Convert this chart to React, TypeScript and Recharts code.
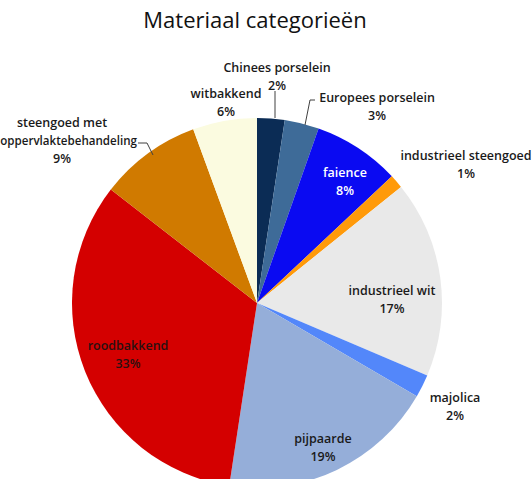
import React from "react";
import { PieChart, Pie, Cell } from "recharts";

// Materiaal categorieën – shares in percent, clockwise from 12 o'clock
const categories = [
  "Chinees porselein",
  "Europees porselein",
  "faience",
  "industrieel steengoed",
  "industrieel wit",
  "majolica",
  "pijpaarde",
  "roodbakkend",
  "steengoed met oppervlaktebehandeling",
  "witbakkend",
];
const shares = [2.4, 3.0, 7.6, 1.2, 17.2, 2.0, 19.0, 33.1, 8.9, 5.6];

const colors = [
  "#0b2c55",
  "#3e6b98",
  "#0a0af2",
  "#ff9a0a",
  "#e9e9e9",
  "#5387fa",
  "#95aed9",
  "#d40000",
  "#d07a00",
  "#fbfbe0",
];

const CX = 252;
const CY = 298;
const FONT = "'Open Sans', Lato, sans-serif";

// label placement, relative to the pie centre (baseline of first line)
const labelLayout: Record<
  string,
  {
    dx: number;
    dy: number;
    words?: number;
    endX?: number;
    fill?: string;
    leader?: number[][];
  }
> = {
  "Chinees porselein": { dx: 20, dy: -231, leader: [[18, -212], [18, -185]] },
  "Europees porselein": {
    dx: 120,
    dy: -201,
    leader: [[58, -203], [53, -203], [48, -178]],
  },
  faience: { dx: 88, dy: -126, fill: "#ffffff" },
  "industrieel steengoed": { dx: 209, dy: -143 },
  "industrieel wit": { dx: 135, dy: -8 },
  majolica: { dx: 198, dy: 99 },
  pijpaarde: { dx: 66, dy: 140 },
  roodbakkend: { dx: -129, dy: 47, fill: "#2a1010" },
  "steengoed met oppervlaktebehandeling": {
    dx: -195,
    dy: -176,
    words: 2,
    endX: -120,
    leader: [[-119, -160], [-110, -160], [-104, -148]],
  },
  witbakkend: { dx: -31, dy: -205 },
};

const data = categories.map((name, i) => ({ name, value: shares[i] }));

const renderLabel = (props: any) => {
  const { cx, cy, name, percent } = props;
  const cfg = labelLayout[name];
  if (!cfg) return null;
  const words = name.split(" ");
  const lines = cfg.words
    ? [words.slice(0, cfg.words).join(" "), words.slice(cfg.words).join(" ")]
    : [name];
  lines.push(`${Math.round(percent * 100)}%`);
  const x = cx + cfg.dx;
  const y0 = cy + cfg.dy;
  return (
    <g>
      {cfg.leader && (
        <polyline
          points={cfg.leader.map(([px, py]) => `${cx + px},${cy + py}`).join(" ")}
          fill="none"
          stroke="#404040"
          strokeWidth={1}
        />
      )}
      {lines.map((t, i) => {
        // long wrapped line is right-aligned against its leader line
        const wrapped = cfg.endX !== undefined && i === 1;
        return (
          <text
            key={i}
            x={wrapped ? cx + (cfg.endX as number) : x}
            y={y0 + i * 18}
            textAnchor={wrapped ? "end" : "middle"}
            fill={cfg.fill || "#1a1a1a"}
            fontFamily={FONT}
            fontWeight={600}
            fontSize={wrapped ? 11.6 : 12.5}
          >
            {t}
          </text>
        );
      })}
    </g>
  );
};

export default function App() {
  return (
    <div style={{ position: "absolute", left: 0, top: 0, width: 532, height: 479, background: "#fff", overflow: "hidden" }}>
      <PieChart width={532} height={479}>
        <text
          x={255}
          y={28}
          textAnchor="middle"
          fontFamily={FONT}
          fontWeight={500}
          fontSize={22}
          fill="#111111"
        >
          Materiaal categorieën
        </text>
        <Pie
          data={data}
          dataKey="value"
          nameKey="name"
          cx={CX}
          cy={CY}
          outerRadius={185}
          startAngle={90}
          endAngle={-270}
          stroke="none"
          label={renderLabel}
          labelLine={false}
          isAnimationActive={false}
        >
          {data.map((d, i) => (
            <Cell key={d.name} fill={colors[i]} />
          ))}
        </Pie>
      </PieChart>
    </div>
  );
}
